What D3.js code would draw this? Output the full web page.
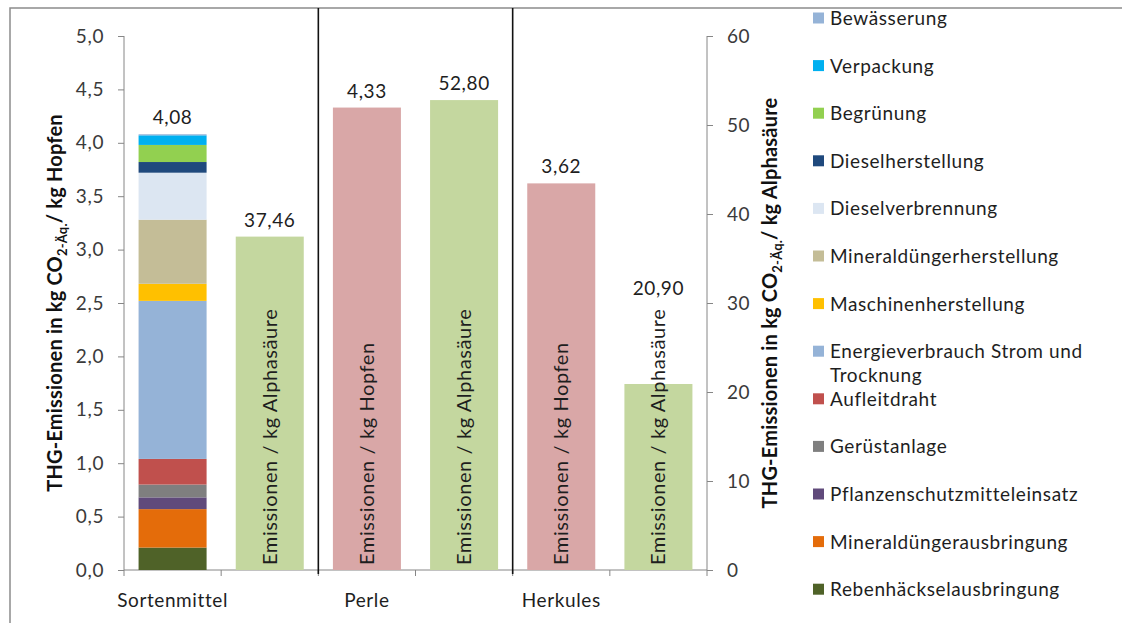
<!DOCTYPE html>
<html>
<head>
<meta charset="utf-8">
<script src="https://cdn.jsdelivr.net/npm/d3@7/dist/d3.min.js"></script>
<style>
  body { margin: 0; background: #fff; }
  svg { display: block; font-family: Lato, "Open Sans", sans-serif; }
  text { letter-spacing: 0.6px; }
</style>
</head>
<body>
<svg id="chart" width="1122" height="623"></svg>
<script>
// Hop varieties and their greenhouse-gas footprints
const varieties = ["Sortenmittel", "Perle", "Herkules"];
const perHopfen = [4.08, 4.33, 3.62];      // kg CO2-eq per kg hops (left axis)
const perAlpha = [37.46, 52.80, 20.90];    // kg CO2-eq per kg alpha acid (right axis)

// Breakdown of the variety average, bottom to top of the stack
const components = [
  "Rebenhäckselausbringung",
  "Mineraldüngerausbringung",
  "Pflanzenschutzmitteleinsatz",
  "Gerüstanlage",
  "Aufleitdraht",
  "Energieverbrauch Strom und Trocknung",
  "Maschinenherstellung",
  "Mineraldüngerherstellung",
  "Dieselverbrennung",
  "Dieselherstellung",
  "Begrünung",
  "Verpackung",
  "Bewässerung"
];
const componentValues = [0.21, 0.36, 0.11, 0.12, 0.24, 1.48, 0.16, 0.60, 0.44, 0.10, 0.16, 0.09, 0.01];

const leftTicks = [0, 0.5, 1, 1.5, 2, 2.5, 3, 3.5, 4, 4.5, 5];
const rightTicks = [0, 10, 20, 30, 40, 50, 60];

// Colours
const componentColors = [
  "#4f6228", "#e46c0a", "#604a7b", "#7f7f7f", "#c0504d", "#95b3d7", "#ffc000",
  "#c4bd97", "#dce6f2", "#1f497d", "#92d050", "#00b0f0", "#95b3d7"
];
const hopfenColor = "#d9a7a7";
const alphaColor = "#c4d79f";
const axisColor = "#868686";
const textColor = "#1e1e1e";
const fontSize = "19px";

const de = d3.formatLocale({ decimal: ",", thousands: ".", grouping: [3], currency: ["", " €"] });
const f1 = de.format(".1f");
const f2 = de.format(".2f");

const svg = d3.select("#chart");
const plot = { left: 124, right: 707, top: 36, bottom: 570 };

// Two slots per variety: per kg hops, per kg alpha acid
const slots = varieties.flatMap(v => [v + "|H", v + "|A"]);
const x = d3.scaleBand().domain(slots).range([plot.left, plot.right])
  .paddingInner(0.3).paddingOuter(0.15);
const yL = d3.scaleLinear().domain([0, 5]).range([plot.bottom, plot.top]);
const yR = d3.scaleLinear().domain([0, 60]).range([plot.bottom, plot.top]);

// Outer frame
svg.append("path").attr("d", "M10,623V8H1122")
  .attr("fill", "none").attr("stroke", "#8c8c8c").attr("stroke-width", 1.5);

// Left axis
const gL = svg.append("g").attr("transform", `translate(${plot.left},0)`)
  .call(d3.axisLeft(yL).tickValues(leftTicks).tickFormat(f1).tickSize(6).tickPadding(14));
// Right axis
const gR = svg.append("g").attr("transform", `translate(${plot.right},0)`)
  .call(d3.axisRight(yR).tickValues(rightTicks).tickFormat(d3.format("d")).tickSize(6).tickPadding(14));
[gL, gR].forEach(g => {
  g.select(".domain").attr("stroke", axisColor).attr("d",
    `M0,${plot.top}V${plot.bottom}`);
  g.selectAll(".tick line").attr("stroke", axisColor);
  g.selectAll(".tick text").attr("fill", "#3a3a3a")
    .style("font-size", fontSize).style("font-family", "Lato, sans-serif");
});

// Category axis
const boundaries = d3.range(slots.length + 1).map(i => plot.left + x.step() * i);
svg.append("line").attr("x1", plot.left).attr("x2", plot.right)
  .attr("y1", plot.bottom).attr("y2", plot.bottom).attr("stroke", axisColor);
svg.selectAll(".xtick").data(boundaries).join("line")
  .attr("x1", d => d).attr("x2", d => d)
  .attr("y1", plot.bottom).attr("y2", plot.bottom + 6).attr("stroke", axisColor);
svg.selectAll(".xlabel").data(varieties).join("text")
  .attr("x", v => x(v + "|H") + x.bandwidth() / 2)
  .attr("y", plot.bottom + 37)
  .attr("text-anchor", "middle").attr("fill", textColor).style("font-size", fontSize)
  .text(v => v);

// Separators between varieties
svg.selectAll(".sep").data(varieties.slice(1)).join("line")
  .attr("x1", v => x(v + "|H") - (x.step() - x.bandwidth()) / 2)
  .attr("x2", v => x(v + "|H") - (x.step() - x.bandwidth()) / 2)
  .attr("y1", 8).attr("y2", plot.bottom + 4)
  .attr("stroke", "#111").attr("stroke-width", 1.6);

// Stacked bar for the variety average
let acc = 0;
const stackData = componentValues.map((v, i) => {
  const d = { y0: acc, y1: acc + v, color: componentColors[i] };
  acc += v;
  return d;
});
svg.append("g").selectAll("rect").data(stackData).join("rect")
  .attr("x", x("Sortenmittel|H")).attr("width", x.bandwidth())
  .attr("y", d => yL(d.y1)).attr("height", d => yL(d.y0) - yL(d.y1))
  .attr("fill", d => d.color);

// Per-kg-hops bars for individual varieties
varieties.forEach((v, i) => {
  if (i > 0) {
    svg.append("rect").attr("x", x(v + "|H")).attr("width", x.bandwidth())
      .attr("y", yL(perHopfen[i])).attr("height", plot.bottom - yL(perHopfen[i]))
      .attr("fill", hopfenColor);
  }
  svg.append("rect").attr("x", x(v + "|A")).attr("width", x.bandwidth())
    .attr("y", yR(perAlpha[i])).attr("height", plot.bottom - yR(perAlpha[i]))
    .attr("fill", alphaColor);
});

// Rotated captions inside the bars; returns the top of the caption
function caption(slot, label) {
  const cx = x(slot) + x.bandwidth() / 2 + 7;
  const y0 = plot.bottom - 5;
  const t = svg.append("text").attr("transform", `translate(${cx},${y0}) rotate(-90)`)
    .attr("fill", textColor).style("font-size", "20px").text(label);
  return y0 - t.node().getComputedTextLength();
}
const captionTopH = [], captionTopA = [];
varieties.forEach((v, i) => {
  captionTopH[i] = i > 0 ? caption(v + "|H", "Emissionen / kg Hopfen") : Infinity;
  captionTopA[i] = caption(v + "|A", "Emissionen / kg Alphasäure");
});

// Value labels, lifted above a caption that overflows its bar
varieties.forEach((v, i) => {
  svg.append("text").attr("x", x(v + "|H") + x.bandwidth() / 2)
    .attr("y", Math.min(yL(perHopfen[i]), captionTopH[i]) - 10)
    .attr("text-anchor", "middle").attr("fill", textColor).style("font-size", fontSize)
    .text(f2(perHopfen[i]));
  svg.append("text").attr("x", x(v + "|A") + x.bandwidth() / 2)
    .attr("y", Math.min(yR(perAlpha[i]), captionTopA[i] - 4) - 10)
    .attr("text-anchor", "middle").attr("fill", textColor).style("font-size", fontSize)
    .text(f2(perAlpha[i]));
});

// Axis titles
function axisTitle(cx, cy, unit) {
  const t = svg.append("text").attr("transform", `translate(${cx},${cy}) rotate(-90)`)
    .attr("text-anchor", "middle").attr("fill", "#111")
    .style("font-size", "20px").style("font-weight", "bold").style("letter-spacing", "0.2px");
  t.append("tspan").text("THG-Emissionen in kg CO");
  t.append("tspan").attr("dy", 5).style("font-size", "13px").text("2-Äq.");
  t.append("tspan").attr("dy", -5).text("/ kg " + unit);
}
axisTitle(62, 303, "Hopfen");
axisTitle(777, 303, "Alphasäure");

// Legend, top to bottom in reverse stacking order
const legendOrder = d3.range(components.length).reverse();
const legend = svg.append("g");
legendOrder.forEach((ci, row) => {
  const cy = 18 + row * 47.6;
  legend.append("rect").attr("x", 813).attr("y", cy - 5.5).attr("width", 11).attr("height", 11)
    .attr("fill", componentColors[ci]);
  const name = components[ci];
  const t = legend.append("text").attr("x", 830).attr("y", cy + 7)
    .attr("fill", textColor).style("font-size", fontSize);
  if (name === "Energieverbrauch Strom und Trocknung") {
    t.append("tspan").text("Energieverbrauch Strom und");
    t.append("tspan").attr("x", 830).attr("dy", 24).text("Trocknung");
  } else {
    t.text(name);
  }
});
</script>
</body>
</html>
